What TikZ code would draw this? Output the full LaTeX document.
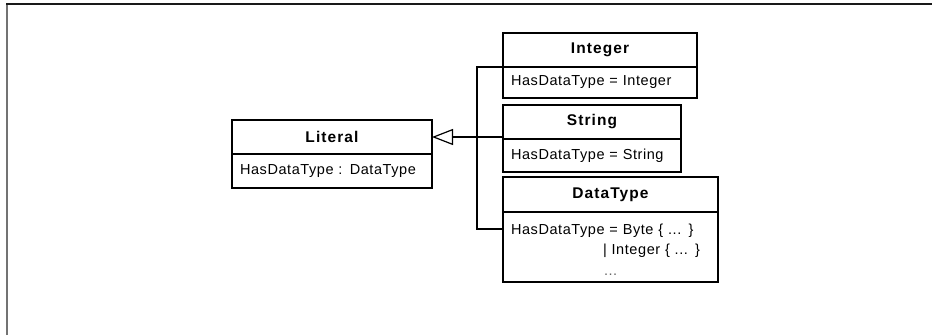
\documentclass[tikz,border=0pt]{standalone}
\usepackage{fontspec}
\setmainfont{Liberation Sans}[LetterSpace=4]
\newfontfamily\headfont{Liberation Sans}[LetterSpace=7]
\usetikzlibrary{arrows.meta,positioning,calc}

\begin{document}
\begin{tikzpicture}[x=1pt, y=-1pt,
  font=\fontsize{14.5}{20.5}\selectfont,
  head/.style={draw, line width=1.2pt, font=\headfont\fontsize{15.5}{20.5}\selectfont\bfseries,
    minimum height=34pt, inner sep=0pt, outer sep=0pt, anchor=north west},
  attr/.style={draw, line width=1.2pt, align=left, inner xsep=8pt, inner ysep=0pt,
    outer sep=0pt, minimum height=34pt},
  gen/.style={-{Triangle[open, length=21pt, width=16pt]}, line width=1.2pt},
  link/.style={line width=1.2pt},
]
  \useasboundingbox (0,0) rectangle (932,335);

  % Frame
  \draw[line width=2pt, black!55] (7,335) -- (7,4);
  \draw[line width=2pt, black!90] (6,4) -- (932,4);

  % Classes
  \node[head, minimum width=200pt] (lit) at (232,120) {Literal};
  \node[attr, text width=184pt, below=0pt of lit] (litattr) {HasDataType : DataType};

  \node[head, minimum width=194pt] (int) at (503,33) {Integer};
  \node[attr, text width=178pt, minimum height=31pt, below=0pt of int] (intattr)
    {HasDataType = Integer};

  \node[head, minimum width=178pt] (str) at (503,105) {String};
  \node[attr, text width=162pt, minimum height=33pt, below=0pt of str] (strattr)
    {HasDataType = String};

  \node[head, minimum width=215pt, minimum height=35pt] (dt) at (503,177) {DataType};
  \node[attr, text width=199pt, minimum height=70pt, below=0pt of dt] (dtattr)
    {\mbox{\rule{0pt}{15pt}HasDataType = Byte \{ ... \}}\\
     \mbox{\hspace*{92pt}| Integer \{ ... \}}\\
     \mbox{\hspace*{93pt}\textcolor{black!60}{...}}};

  % Generalisation
  \coordinate (bus) at (477,137);
  \draw[gen] (lit.east -| str.west) -- (lit.east);
  \draw[link] (int.south west) -| (bus) |- ([yshift=-17pt]dtattr.north west);
\end{tikzpicture}
\end{document}
